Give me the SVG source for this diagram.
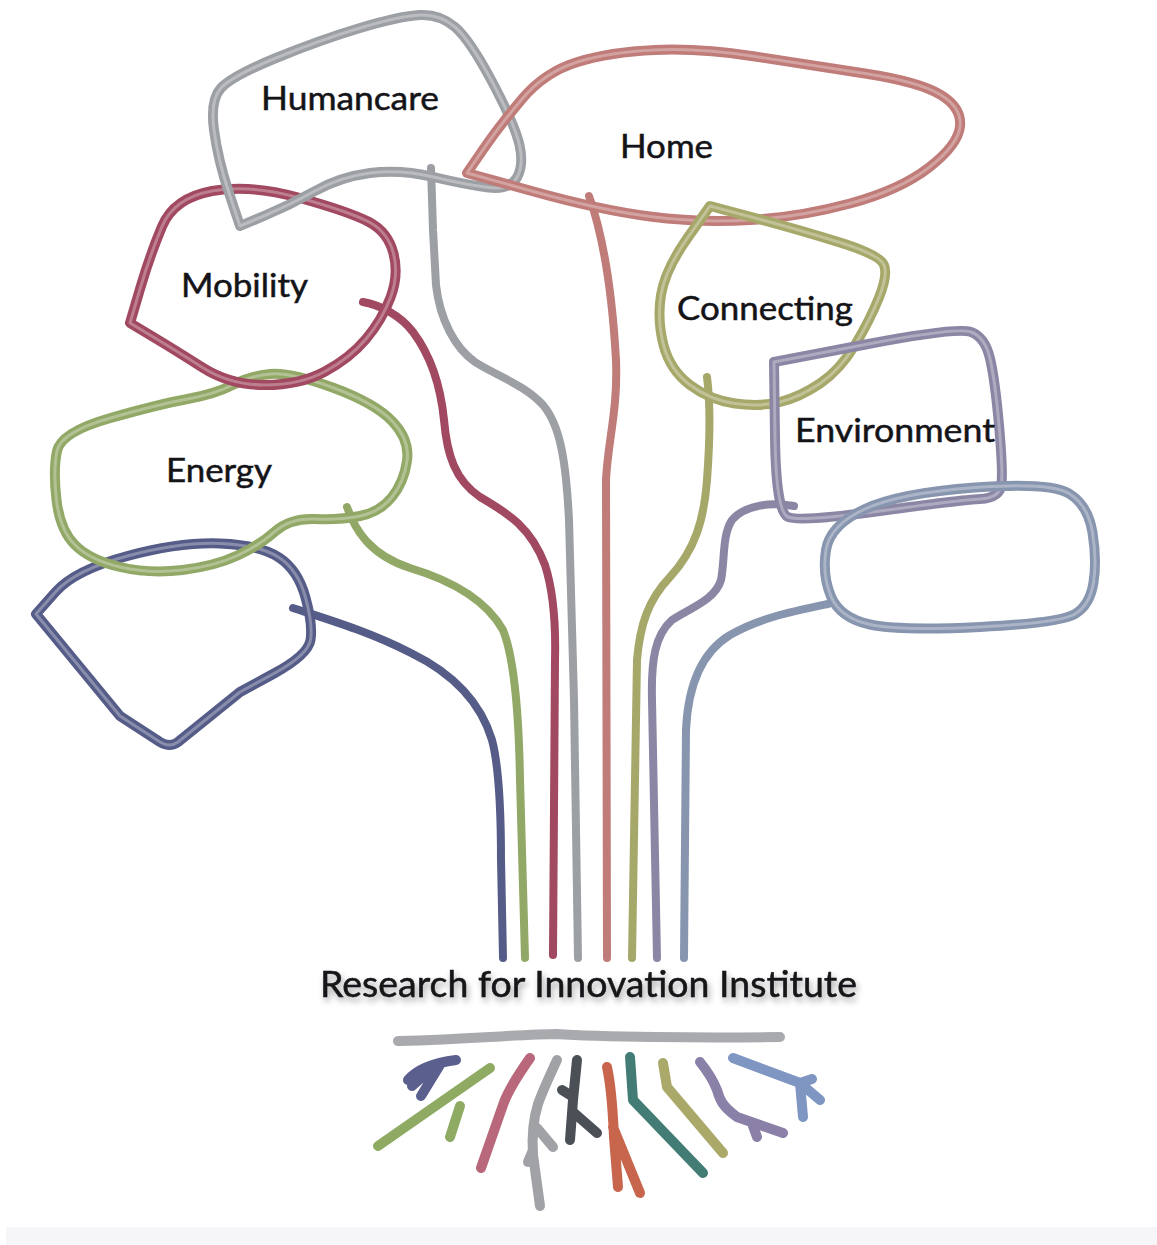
<svg xmlns="http://www.w3.org/2000/svg" width="1157" height="1245" viewBox="0 0 1157 1245">
  <style>
    .edge{fill:none;stroke-width:10;stroke-linecap:round;stroke-linejoin:round}
    .core{fill:none;stroke:#ffffff;stroke-opacity:.3;stroke-width:3;stroke-linecap:round;stroke-linejoin:round}
    .stem{fill:none;stroke-width:8;stroke-linecap:round;stroke-linejoin:round}
    .root{fill:none;stroke-width:10;stroke-linecap:round;stroke-linejoin:round}
    .c-hum{stroke:#9c9fa4}
    .c-home{stroke:#bf7b78}
    .c-mob{stroke:#a14860}
    .c-ene{stroke:#92a866}
    .c-navy{stroke:#555c88}
    .c-con{stroke:#a6a86b}
    .c-env{stroke:#8c86a5}
    .c-blue{stroke:#8795af}
    .label{font-family:Lato,"Liberation Sans",sans-serif;font-size:33px;fill:#141418;stroke:#141418;stroke-width:0.5}
    .title{font-family:Lato,"Liberation Sans",sans-serif;font-size:37px;fill:#141418;stroke:#141418;stroke-width:0.5}
  </style>
  <defs>
    <filter id="soft" x="-5%" y="-5%" width="110%" height="110%">
      <feGaussianBlur stdDeviation="0.6"/>
    </filter>
    <filter id="shadow" x="-10%" y="-40%" width="120%" height="180%">
      <feDropShadow dx="2" dy="4" stdDeviation="3" flood-color="#000" flood-opacity="0.35"/>
    </filter>
    <path id="p-hum" d="M 240 226 L 265 215.5 Q 290 205 315 191 Q 340 177 370 173 Q 400 169 433.5 177 Q 467 185 488.5 187.5 Q 510 190 517 177.5 Q 524 165 519.5 145 Q 515 125 492.5 82.5 Q 470 40 455 27 Q 440 14 420 15 Q 400 16 360 28 Q 320 40 276 58 Q 232 76 221 88 Q 210 100 214 130 Q 218 160 229 193 Z"/>
    <path id="p-home" d="M 467 173 L 483.5 149 Q 500 125 522.5 98.5 Q 545 72 577.5 62 Q 610 52 655 50 Q 700 48 755 56.5 Q 810 65 865 73.5 Q 920 82 941 95 Q 962 108 960 126.5 Q 958 145 929 167.5 Q 900 190 850 203.5 Q 800 217 750 220 Q 700 223 650 216.5 Q 600 210 533.5 191.5 Z"/>
    <path id="p-mob" d="M 130 323 L 140 289 Q 150 255 162 226.5 Q 174 198 212 191 Q 250 184 300 198 Q 350 212 369 222 Q 388 232 393.5 253.5 Q 399 275 390.5 297.5 Q 382 320 366 339 Q 350 358 325 371.5 Q 300 385 265 385 Q 230 385 202.5 367.5 Q 175 350 152.5 336.5 Z"/>
    <path id="p-ene" d="M 57 451 Q 61 432 110.5 418 Q 160 404 187.5 399 Q 215 394 232.5 385 Q 250 376 270 374 Q 290 372 332.5 387.5 Q 375 403 392.5 421.5 Q 410 440 407 461 Q 404 482 392 497 Q 380 512 360 516 Q 340 520 315 519 Q 290 518 275 531.5 Q 260 545 237.5 555.5 Q 215 566 182.5 570 Q 150 574 120 567 Q 90 560 75 545 Q 60 530 56.5 500 Q 53 470 57 451 Z"/>
    <path id="p-navy" d="M 36 614 L 55.5 592 Q 75 570 127.5 556 Q 180 542 220 543.5 Q 260 545 279 557.5 Q 298 570 305.5 597.5 Q 313 625 310.5 640 Q 308 655 274 673.5 L 240 692 L 178 742 Q 170 748 160 742 L 120 716 Z"/>
    <path id="p-con" d="M 710 206 L 755 218 Q 800 230 840 242.5 Q 880 255 884 265 Q 888 275 879 297.5 Q 870 320 855 345 Q 840 370 820 383.5 Q 800 397 780 402 Q 760 407 735 403.5 Q 710 400 690 385 Q 670 370 663.5 345 Q 657 320 661 295 Q 665 270 687.5 238 Z"/>
    <path id="p-env" d="M 774 362 L 865.5 344.5 Q 957 327 971 332 Q 985 337 990 358.5 Q 995 380 999 425 Q 1003 470 1001.5 484 Q 1000 498 980 499 Q 960 500 880 511 Q 800 522 788 517 Q 776 512 775 437 Z"/>
    <path id="p-blue" d="M 865 509 Q 900 493 975 487.5 Q 1050 482 1069 493.5 Q 1088 505 1092.5 532.5 Q 1097 560 1093.5 582.5 Q 1090 605 1075 614 Q 1060 623 980 627 Q 900 631 870 624.5 Q 840 618 831 596.5 Q 822 575 826 550 Q 830 525 865 509 Z"/>
  </defs>

  <rect width="1157" height="1245" fill="#ffffff"/>
  <rect x="6" y="1227" width="1151" height="18" fill="#f6f6f8"/>

  <!-- stems running from each branch down to the trunk -->
  <g id="connectors" filter="url(#soft)">
    <path class="stem c-navy" d="M 293 608 C 330 620 370 632 411 653 C 450 672 480 700 492 740 C 500 770 501 820 501 860 L 503 958"/>
    <path class="stem c-ene" d="M 347 507 C 355 530 370 555 410 568 C 450 580 485 598 503 630 C 515 660 519 720 520 780 L 525 958"/>
    <path class="stem c-mob" stroke-width="7" d="M 363 302 C 380 305 400 315 413 332 C 428 352 440 380 444 420 C 447 455 455 480 480 497 C 505 512 530 525 545 565 C 553 590 556 620 555 660 L 553 955"/>
    <path class="stem c-hum" d="M 431 168 L 433 230 L 436 285 C 440 320 455 348 475 362 C 495 375 525 385 543 405 C 560 425 566 460 569 520 L 574 700 L 578 958"/>
    <path class="stem c-home" d="M 589 196 C 603 235 612 290 616 360 C 618 410 608 440 606 480 L 607 958"/>
    <path class="stem c-con" d="M 707 377 C 710 400 710 440 707 480 C 704 520 695 550 670 577 C 648 600 640 625 637 660 L 632 958"/>
    <path class="stem c-env" d="M 794 506 C 770 502 745 505 732 520 C 722 535 725 560 721 580 C 715 600 690 608 672 620 C 655 635 651 660 652 700 L 657 958"/>
    <path class="stem c-blue" d="M 828 604 C 790 612 760 618 730 635 C 702 652 688 685 686 730 L 684 958"/>
  </g>

  <g id="node-navy" filter="url(#soft)">
    <use href="#p-navy" class="edge c-navy" stroke-width="8"/>
    <use href="#p-navy" class="core"/>
  </g>
  <g id="node-energy">
    <g filter="url(#soft)">
      <use href="#p-ene" class="edge c-ene"/>
      <use href="#p-ene" class="core"/>
    </g>
    <text class="label" x="166" y="482" textLength="106" lengthAdjust="spacingAndGlyphs">Energy</text>
  </g>
  <g id="node-mobility">
    <g filter="url(#soft)">
      <use href="#p-mob" class="edge c-mob" stroke-width="8"/>
      <use href="#p-mob" class="core"/>
    </g>
    <text class="label" x="181" y="297" textLength="127" lengthAdjust="spacingAndGlyphs">Mobility</text>
  </g>
  <g id="node-humancare">
    <g filter="url(#soft)">
      <use href="#p-hum" class="edge c-hum"/>
      <use href="#p-hum" class="core"/>
    </g>
    <text class="label" x="261" y="110" textLength="178" lengthAdjust="spacingAndGlyphs">Humancare</text>
  </g>
  <g id="node-home">
    <g filter="url(#soft)">
      <use href="#p-home" class="edge c-home"/>
      <use href="#p-home" class="core"/>
    </g>
    <text class="label" x="620" y="158" textLength="93" lengthAdjust="spacingAndGlyphs">Home</text>
  </g>
  <g id="node-connecting">
    <g filter="url(#soft)">
      <use href="#p-con" class="edge c-con"/>
      <use href="#p-con" class="core"/>
    </g>
    <text class="label" x="677" y="320" textLength="176" lengthAdjust="spacingAndGlyphs">Connecting</text>
  </g>
  <g id="node-environment">
    <g filter="url(#soft)">
      <use href="#p-env" class="edge c-env"/>
      <use href="#p-env" class="core"/>
    </g>
    <text class="label" x="795" y="442" textLength="200" lengthAdjust="spacingAndGlyphs">Environment</text>
  </g>
  <g id="node-bluegray" filter="url(#soft)">
    <use href="#p-blue" class="edge c-blue"/>
    <use href="#p-blue" class="core"/>
  </g>

  <g id="node-trunk">
    <text class="title" x="320" y="997" textLength="537" lengthAdjust="spacingAndGlyphs" filter="url(#shadow)">Research for Innovation Institute</text>
  </g>

  <!-- ground line and roots -->
  <g id="roots" filter="url(#soft)">
    <path class="root" stroke="#a9aaae" stroke-width="7" d="M 398 1041 C 470 1039 530 1034 556 1034 C 600 1037 700 1038 780 1037"/>
    <path class="root" stroke="#5a5f8e" stroke-width="10" d="M 456 1060 C 440 1062 420 1066 408 1080 M 440 1065 L 421 1096 M 430 1070 L 412 1086"/>
    <path class="root" stroke="#8fab64" stroke-width="11" d="M 378 1146 L 490 1068 M 460 1106 L 450 1137"/>
    <path class="root" stroke="#b9677b" stroke-width="12" d="M 530 1058 C 518 1075 508 1090 503 1105 L 481 1168"/>
    <path class="root" stroke="#a1a2a6" stroke-width="10" d="M 557 1060 C 550 1075 543 1090 538 1104 C 533 1120 532 1140 533 1155 L 540 1206 M 537 1128 L 553 1147 M 533 1150 L 528 1162"/>
    <path class="root" stroke="#4c4f57" stroke-width="8" d="M 577 1060 L 573 1100 L 570 1140 M 573 1112 L 597 1133 M 570 1095 L 562 1090"/>
    <path class="root" stroke="#c8654e" stroke-width="10" d="M 607 1067 C 612 1090 613 1115 614 1137 L 618 1187 M 613 1127 L 640 1193"/>
    <path class="root" stroke="#437c74" stroke-width="8" d="M 630 1057 L 633 1100 L 703 1173"/>
    <path class="root" stroke="#aaa96a" stroke-width="9" d="M 663 1063 L 667 1087 L 723 1153"/>
    <path class="root" stroke="#8b80a8" stroke-width="9" d="M 700 1062 C 708 1072 714 1082 717 1090 C 720 1100 722 1106 737 1117 L 783 1133 M 753 1126 L 757 1137"/>
    <path class="root" stroke="#7f95c2" stroke-width="9" d="M 733 1058 L 800 1083 L 820 1100 M 800 1083 L 803 1117 M 800 1083 L 812 1079"/>
  </g>
</svg>
